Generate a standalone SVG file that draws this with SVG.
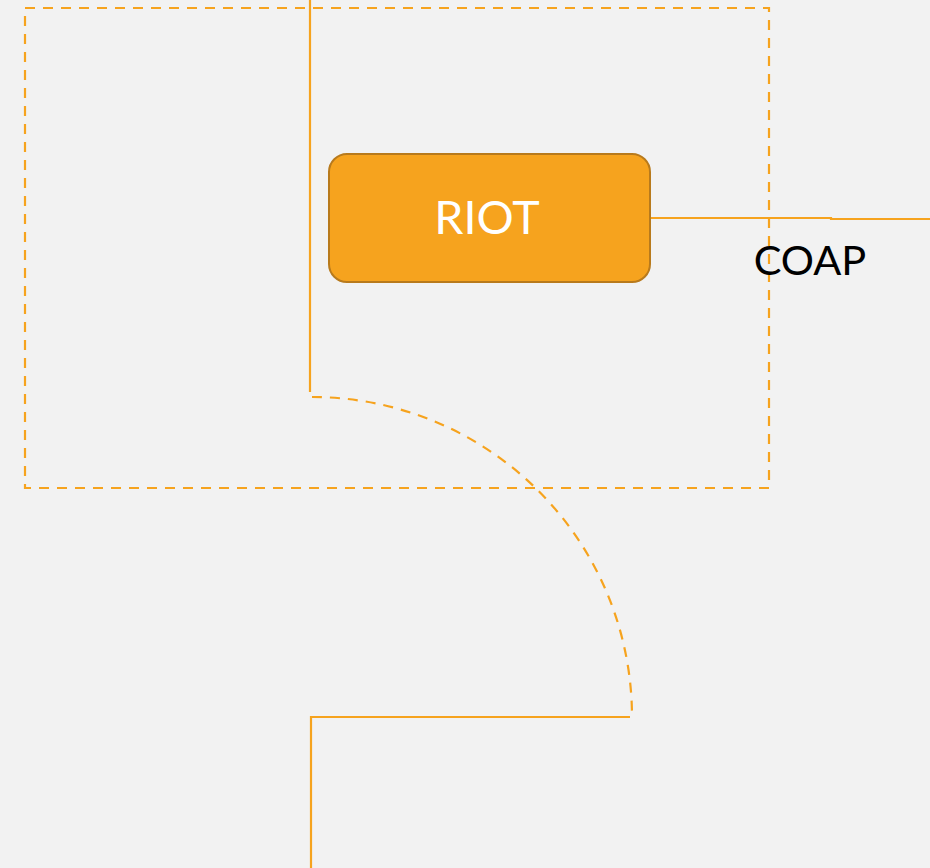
<svg xmlns="http://www.w3.org/2000/svg" width="930" height="868" viewBox="0 0 930 868">
<style>
.ln{fill:none;stroke:#F6A31E;stroke-width:2.2}
.dash{stroke-dasharray:10 8}
.lbl{font-family:Lato,"Open Sans",sans-serif}
</style>
<rect width="930" height="868" fill="#F2F2F2"/>
<g id="boundary">
<rect class="ln dash" x="25" y="8" width="744" height="480"/>
</g>
<g id="connectors">
<path class="ln" d="M310,0 V392"/>
<path class="ln dash" d="M312,397 A320,320 0 0 1 632,717"/>
<path class="ln" d="M630,717 H311 V868"/>
<path class="ln" d="M650,218 H831 V219 H930"/>
<text class="lbl" x="810" y="275" font-size="41.5" text-anchor="middle" fill="#000">COAP</text>
</g>
<g id="riot">
<rect x="329" y="154" width="321" height="128" rx="18" fill="#F6A31E" stroke="#B87A1C" stroke-width="2"/>
<text class="lbl" x="487" y="234" font-size="46.5" text-anchor="middle" fill="#fff">RIOT</text>
</g>
</svg>
